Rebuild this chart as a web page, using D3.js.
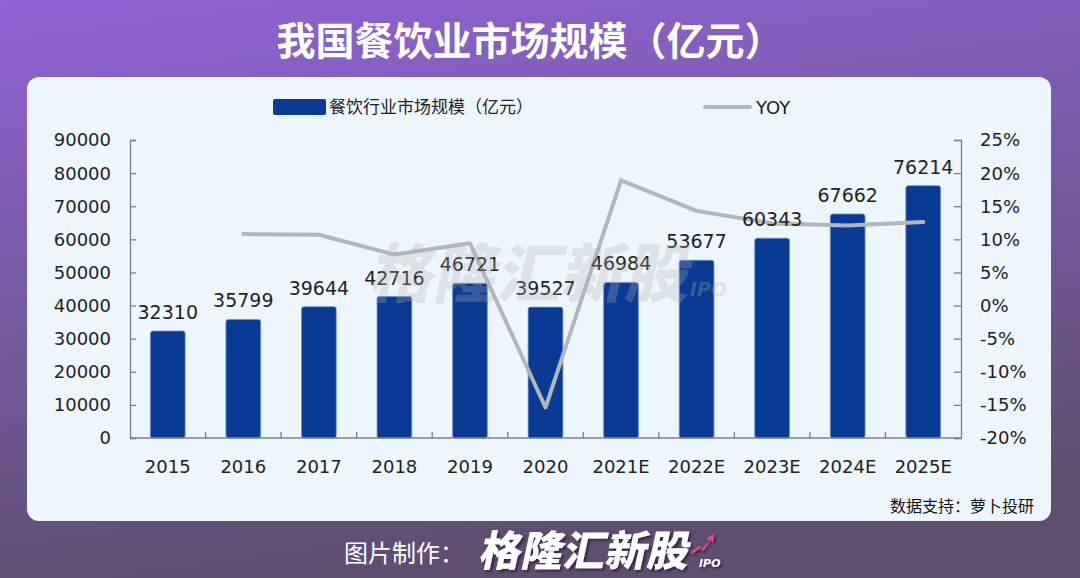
<!DOCTYPE html>
<html>
<head>
<meta charset="utf-8">
<script src="https://cdn.jsdelivr.net/npm/d3@7"></script>
<style>
  html, body { margin: 0; padding: 0; background: #6e5896; }
  svg { display: block; }
</style>
</head>
<body>
<div id="chart"></div>
<script>
// data
var years = ["2015", "2016", "2017", "2018", "2019", "2020", "2021E", "2022E", "2023E", "2024E", "2025E"];
var market = [32310, 35799, 39644, 42716, 46721, 39527, 46984, 53677, 60343, 67662, 76214];
var yoy = [null, 10.8, 10.7, 7.7, 9.4, -15.4, 18.9, 14.3, 12.4, 12.1, 12.6];
var leftTicks = [0, 10000, 20000, 30000, 40000, 50000, 60000, 70000, 80000, 90000];
var rightTicks = [-20, -15, -10, -5, 0, 5, 10, 15, 20, 25];

var W = 1080, H = 578;
var plot = {left: 130, right: 961, top: 140, bottom: 438};
var numFont = "'DejaVu Sans', Verdana, sans-serif";
var cjkFont = "'Noto Sans CJK SC', 'Noto Sans', sans-serif";

var svg = d3.select("#chart").append("svg")
    .attr("width", W)
    .attr("height", H);

var defs = svg.append("defs");
var bg = defs.append("linearGradient").attr("id", "bg")
    .attr("x1", 0).attr("y1", 0).attr("x2", 0.25).attr("y2", 1);
bg.append("stop").attr("offset", "0%").attr("stop-color", "#9062d6");
bg.append("stop").attr("offset", "45%").attr("stop-color", "#775ca8");
bg.append("stop").attr("offset", "100%").attr("stop-color", "#5f4e70");

var shadow = defs.append("filter").attr("id", "shadow")
    .attr("x", "-10%").attr("y", "-20%").attr("width", "130%").attr("height", "150%");
shadow.append("feDropShadow").attr("dx", 2).attr("dy", 2)
    .attr("stdDeviation", 1.2).attr("flood-color", "#2a1f3a").attr("flood-opacity", 0.8);

svg.append("rect").attr("width", W).attr("height", H).attr("fill", "url(#bg)");

// title
svg.append("text")
    .attr("x", 530).attr("y", 55)
    .attr("text-anchor", "middle")
    .style("font-family", cjkFont).style("font-weight", 700)
    .style("font-size", "39px").style("fill", "#fff")
    .text("我国餐饮业市场规模（亿元）");

// card
svg.append("rect")
    .attr("x", 27).attr("y", 77).attr("width", 1024).attr("height", 444)
    .attr("rx", 12).attr("ry", 12)
    .attr("fill", "#eef6fd");

var x = d3.scaleBand().domain(years)
    .range([plot.left, plot.right])
    .paddingInner(0.54).paddingOuter(0.27);
var band = d3.scaleBand().domain(years).range([plot.left, plot.right]);
var yL = d3.scaleLinear().domain([0, 90000]).range([plot.bottom, plot.top]);
var yR = d3.scaleLinear().domain([-20, 25]).range([plot.bottom, plot.top]);

// axes
var axisColor = "#7f7f7f";
var gL = svg.append("g").attr("transform", "translate(" + plot.left + ",0)")
    .call(d3.axisRight(yL).tickValues(leftTicks).tickSize(6).tickFormat(""));
var gR = svg.append("g").attr("transform", "translate(" + plot.right + ",0)")
    .call(d3.axisLeft(yR).tickValues(rightTicks).tickSize(7).tickFormat(""));
[gL, gR].forEach(function(g) {
    g.select(".domain").attr("stroke", axisColor).attr("stroke-width", 1.3);
    g.selectAll(".tick line").attr("stroke", axisColor).attr("stroke-width", 1.3);
});

svg.append("g").selectAll("text").data(leftTicks).enter().append("text")
    .attr("x", 111).attr("y", function(d) { return yL(d); })
    .attr("dy", "0.36em").attr("text-anchor", "end")
    .style("font-family", numFont).style("font-size", "18px").style("fill", "#222")
    .text(function(d) { return d; });

svg.append("g").selectAll("text").data(rightTicks).enter().append("text")
    .attr("x", 980).attr("y", function(d) { return yR(d); })
    .attr("dy", "0.36em")
    .style("font-family", numFont).style("font-size", "18px").style("fill", "#222")
    .text(function(d) { return d + "%"; });

// bars
svg.append("g").selectAll("rect").data(market).enter().append("rect")
    .attr("x", function(d, i) { return x(years[i]); })
    .attr("y", function(d) { return yL(d); })
    .attr("width", x.bandwidth())
    .attr("height", function(d) { return yL(0) - yL(d); })
    .attr("rx", 2.5)
    .attr("fill", "#0a3b94")
    .attr("stroke", "#6d8fd2").attr("stroke-width", 0.8);

// x axis on top of bars
var gX = svg.append("g").attr("transform", "translate(0," + plot.bottom + ")");
gX.append("line").attr("x1", plot.left).attr("x2", plot.right)
    .attr("stroke", axisColor).attr("stroke-width", 1.3);
gX.selectAll(".xt").data(years.slice(1)).enter().append("line")
    .attr("x1", function(d) { return band(d); }).attr("x2", function(d) { return band(d); })
    .attr("y1", 0).attr("y2", -6)
    .attr("stroke", axisColor).attr("stroke-width", 1.3);
gX.selectAll("text").data(years).enter().append("text")
    .attr("x", function(d) { return band(d) + band.bandwidth() / 2; })
    .attr("y", 35)
    .attr("text-anchor", "middle")
    .style("font-family", numFont).style("font-size", "18px").style("fill", "#222")
    .text(function(d) { return d; });

// yoy line
var line = d3.line()
    .defined(function(d) { return d != null; })
    .x(function(d, i) { return band(years[i]) + band.bandwidth() / 2; })
    .y(function(d) { return yR(d); });
svg.append("path").datum(yoy)
    .attr("d", line)
    .attr("fill", "none")
    .attr("stroke", "#b3b6ba").attr("stroke-width", 4)
    .attr("stroke-linejoin", "round").attr("stroke-linecap", "round");

// bar value labels
svg.append("g").selectAll("text").data(market).enter().append("text")
    .attr("x", function(d, i) { return band(years[i]) + band.bandwidth() / 2; })
    .attr("y", function(d) { return yL(d) - 12; })
    .attr("text-anchor", "middle")
    .style("font-family", numFont).style("font-size", "19px").style("fill", "#222")
    .text(function(d) { return d; });

// watermark, over the marks
var wm = svg.append("g").attr("opacity", 0.28);
wm.append("text")
    .attr("x", 528).attr("y", 297)
    .attr("text-anchor", "middle")
    .attr("transform", "skewX(-12) translate(63,0)")
    .style("font-family", cjkFont).style("font-weight", 900)
    .style("font-size", "64px").style("fill", "#b0b0b0")
    .text("格隆汇新股");
wm.append("text")
    .attr("x", 690).attr("y", 296)
    .style("font-family", numFont).style("font-weight", 700).style("font-style", "italic")
    .style("font-size", "19px").style("fill", "#b0b0b0")
    .text("IPO");

// legend
svg.append("rect").attr("x", 273).attr("y", 99).attr("width", 53).attr("height", 16)
    .attr("rx", 2).attr("fill", "#0a3b94");
svg.append("text").attr("x", 329).attr("y", 113)
    .style("font-family", cjkFont).style("font-size", "17px").style("fill", "#222")
    .text("餐饮行业市场规模（亿元）");
svg.append("line").attr("x1", 705).attr("x2", 750).attr("y1", 107).attr("y2", 107)
    .attr("stroke", "#b3b6ba").attr("stroke-width", 4).attr("stroke-linecap", "round");
svg.append("text").attr("x", 756).attr("y", 114)
    .style("font-family", numFont).style("font-size", "18px").style("fill", "#222")
    .text("YOY");

// source
svg.append("text").attr("x", 1034).attr("y", 512)
    .attr("text-anchor", "end")
    .style("font-family", cjkFont).style("font-size", "16px").style("fill", "#111")
    .text("数据支持：萝卜投研");

// footer
svg.append("text").attr("x", 344).attr("y", 562)
    .style("font-family", cjkFont).style("font-size", "24px").style("fill", "#fff")
    .text("图片制作：");
var logo = svg.append("g").attr("filter", "url(#shadow)");
logo.append("text")
    .attr("x", 478).attr("y", 566)
    .attr("transform", "skewX(-12) translate(120,0)")
    .style("font-family", cjkFont).style("font-weight", 900)
    .style("font-size", "42px").style("fill", "#fff")
    .text("格隆汇新股");
logo.append("path")
    .attr("d", "M691,552 L699,546 L702,549 L710,540 L706,539 L714,534 L713,543 L711,540 L703,551 L700,548 L692,554 Z")
    .attr("fill", "#ee4a84");
logo.append("text")
    .attr("x", 699).attr("y", 567)
    .style("font-family", numFont).style("font-weight", 700).style("font-style", "italic")
    .style("font-size", "11px").style("fill", "#fff")
    .text("IPO");
</script>
</body>
</html>
